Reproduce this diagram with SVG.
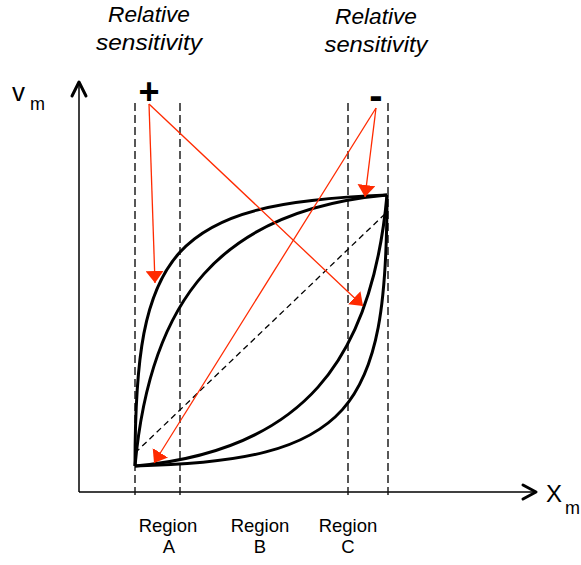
<svg xmlns="http://www.w3.org/2000/svg" width="581" height="565" viewBox="0 0 581 565">
<style>
.t{font-family:"Liberation Sans",Arial,sans-serif;fill:#000}
.it{font-style:italic;font-size:22px}
.reg{font-size:18.5px}
.vd{stroke:#111;stroke-width:1.4;stroke-dasharray:8,4;fill:none}
.curve{stroke:#000;stroke-width:3;fill:none}
.ax{stroke:#000;stroke-width:1.5;fill:none}
.head{stroke:#000;stroke-width:3;fill:none;stroke-linecap:round;stroke-linejoin:round}
.red{stroke:#ff2a00;stroke-width:1.3;fill:none}
</style>
<defs>
<marker id="ah" markerUnits="userSpaceOnUse" viewBox="0 0 12 18" refX="12" refY="9" markerWidth="12" markerHeight="18" orient="auto">
<path d="M0,0 L12,9 L0,18 z" fill="#ff2a00"/>
</marker>
</defs>
<g id="axes">
<line class="ax" x1="79" y1="492" x2="79" y2="83"/>
<polyline class="head" points="72,96 79,82 86,96"/>
<line class="ax" x1="79" y1="492" x2="534" y2="492"/>
<polyline class="head" points="523,485 536,492 523,499"/>
<text class="t" x="12" y="101" font-size="26">v</text>
<text class="t" x="30" y="110" font-size="18">m</text>
<text class="t" x="546" y="502" font-size="24">X</text>
<text class="t" x="565" y="514" font-size="18">m</text>
</g>
<g id="region-lines">
<line class="vd" x1="135" y1="103" x2="135" y2="497"/>
<line class="vd" x1="180" y1="103" x2="180" y2="497"/>
<line class="vd" x1="348" y1="103" x2="348" y2="497"/>
<line class="vd" x1="388" y1="103" x2="388" y2="497"/>
</g>
<g id="diagonal">
<line x1="135" y1="453" x2="387" y2="212" stroke="#000" stroke-width="1.3" stroke-dasharray="6,4"/>
</g>
<g id="curves">
<path class="curve" d="M135,466 C135,250 170,203 387,195"/>
<path class="curve" d="M135,466 C150,300 220,210 387,195"/>
<path class="curve" d="M135,466 C302,451 372,361 387,195"/>
<path class="curve" d="M135,466 C352,461 387,411 387,195"/>
</g>
<g id="labels">
<text class="t it" x="149" y="22" text-anchor="middle" textLength="82" lengthAdjust="spacingAndGlyphs">Relative</text>
<text class="t it" x="149" y="50" text-anchor="middle" textLength="106" lengthAdjust="spacingAndGlyphs">sensitivity</text>
<text class="t it" x="376" y="24" text-anchor="middle" textLength="82" lengthAdjust="spacingAndGlyphs">Relative</text>
<text class="t it" x="376" y="52" text-anchor="middle" textLength="103" lengthAdjust="spacingAndGlyphs">sensitivity</text>
<text class="t" x="149" y="104" text-anchor="middle" font-size="36" font-weight="bold">+</text>
<text class="t" x="376" y="109" text-anchor="middle" font-size="40" font-weight="bold">-</text>
</g>
<g id="connectors">
<line class="red" x1="149" y1="104" x2="155" y2="283" marker-end="url(#ah)"/>
<line class="red" x1="149" y1="104" x2="363" y2="306" marker-end="url(#ah)"/>
<line class="red" x1="376" y1="108" x2="365" y2="197" marker-end="url(#ah)"/>
<line class="red" x1="376" y1="108" x2="154" y2="463" marker-end="url(#ah)"/>
</g>
<g id="region-labels">
<text class="t reg" x="168" y="532" text-anchor="middle">Region</text>
<text class="t reg" x="169" y="553" text-anchor="middle">A</text>
<text class="t reg" x="260" y="532" text-anchor="middle">Region</text>
<text class="t reg" x="260" y="553" text-anchor="middle">B</text>
<text class="t reg" x="348" y="532" text-anchor="middle">Region</text>
<text class="t reg" x="348" y="553" text-anchor="middle">C</text>
</g>
</svg>
